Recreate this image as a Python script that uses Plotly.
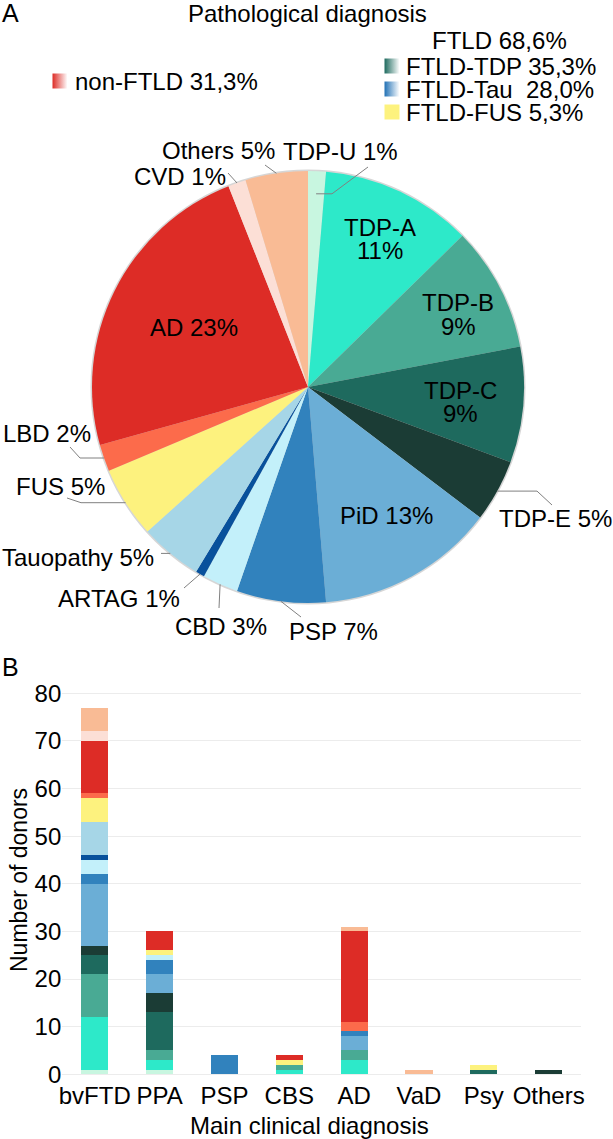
import math
import plotly.graph_objects as go

W, H = 613, 1139
FONT = "Liberation Sans, Arial, sans-serif"

# ---------------- data ----------------
clinical = ["bvFTD", "PPA", "PSP", "CBS", "AD", "VaD", "Psy", "Others"]
pathology = ["TDP-U", "TDP-A", "TDP-B", "TDP-C", "TDP-E", "PiD", "PSP", "CBD",
             "ARTAG", "Tauopathy", "FUS", "LBD", "AD", "CVD", "Others"]
colors = ["#c8f6e0", "#2de9c9", "#49aa94", "#1e6a5e", "#1b3c35", "#6baed6",
          "#3182bd", "#c3f0fa", "#08519c", "#a6d6e7", "#fdf27e", "#fc6b4b",
          "#dd2c26", "#fcdfd6", "#f9bb95"]

# donors per clinical diagnosis (bvFTD, PPA, PSP, CBS, AD, VaD, Psy, Others)
tdp_u     = [1, 1, 0, 0, 0, 0, 0, 0]
tdp_a     = [11, 2, 0, 1, 3, 0, 0, 0]
tdp_b     = [9, 2, 0, 1, 2, 0, 0, 0]
tdp_c     = [4, 8, 0, 0, 0, 0, 1, 0]
tdp_e     = [2, 4, 0, 0, 0, 0, 0, 1]
pid       = [13, 4, 0, 0, 3, 0, 0, 0]
psp       = [2, 3, 4, 0, 1, 0, 0, 0]
cbd       = [3, 1, 0, 0, 0, 0, 0, 0]
artag     = [1, 0, 0, 0, 0, 0, 0, 0]
tauopathy = [7, 0, 0, 0, 0, 0, 0, 0]
fus       = [5, 1, 0, 1, 0, 0, 1, 0]
lbd       = [1, 0, 0, 0, 2, 0, 0, 0]
ad        = [11, 4, 0, 1, 19, 0, 0, 0]
cvd       = [2, 0, 0, 0, 0, 0, 0, 0]
others    = [5, 0, 0, 0, 1, 1, 0, 0]
counts = [tdp_u, tdp_a, tdp_b, tdp_c, tdp_e, pid, psp, cbd, artag,
          tauopathy, fus, lbd, ad, cvd, others]

pie_values = [sum(c) for c in counts]
total = sum(pie_values)

legend_header = "FTLD 68,6%"
legend_items = ["FTLD-TDP 35,3%", "FTLD-Tau\u00a0\u00a028,0%", "FTLD-FUS 5,3%"]
legend_colors = ["#1e6a5e", "#2171b5", "#fdf27e"]
nonftld_text = "non-FTLD 31,3%"
nonftld_color = "#dd2c26"

y_ticks = [0, 10, 20, 30, 40, 50, 60, 70, 80]

# ---------------- layout geometry (pixels) ----------------
CX, CY, R = 308, 387, 216          # pie centre / radius

fig = go.Figure()

# overlay axis in pixel coordinates for texts, swatches and leader lines
fig.update_layout(
    xaxis3=dict(domain=[0, 1], range=[0, W], visible=False, fixedrange=True, anchor="y3"),
    yaxis3=dict(domain=[0, 1], range=[H, 0], visible=False, fixedrange=True, anchor="x3"),
)

# --- pie ---
fig.add_trace(go.Pie(
    labels=pathology, values=pie_values, sort=False, direction="clockwise",
    rotation=0, marker=dict(colors=colors, line=dict(width=0)),
    textinfo="none", hoverinfo="label+percent", showlegend=False,
    domain=dict(x=[(CX - R) / W, (CX + R) / W], y=[1 - (CY + R) / H, 1 - (CY - R) / H]),
))

# --- stacked bars ---
for name, col, vals in zip(pathology, colors, counts):
    fig.add_trace(go.Bar(
        x=clinical, y=vals, name=name, marker=dict(color=col, line=dict(width=0)),
        showlegend=False, xaxis="x", yaxis="y",
    ))

# legend swatches (gradient squares)
sw_x = [392, 392, 392, 60]
sw_y = [66, 89, 112, 81]
sw_c = legend_colors + [nonftld_color]
for x, y, c in zip(sw_x, sw_y, sw_c):
    grad = dict(type="horizontal", color="white") if c != "#fdf27e" else dict(type="none")
    fig.add_trace(go.Scatter(
        x=[x], y=[y], mode="markers", xaxis="x3", yaxis="y3", showlegend=False,
        hoverinfo="skip",
        marker=dict(symbol="square", size=15, color=c, gradient=grad, line=dict(width=0)),
    ))

annotations = []
shapes = []


def txt(s, x, y, size=24, xanchor="center", angle=0):
    annotations.append(dict(text=s, x=x, y=y, xref="x3", yref="y3", showarrow=False,
                            xanchor=xanchor, yanchor="middle", textangle=angle,
                            font=dict(family=FONT, size=size, color="#000")))


# slice mid angles (from data)
mid_angle = {}
cum = 0
for name, v in zip(pathology, pie_values):
    mid_angle[name] = 2 * math.pi * (cum + v / 2) / total
    cum += v


def edge(name, rf=1.0):
    a = mid_angle[name]
    return CX + R * rf * math.sin(a), CY - R * rf * math.cos(a)


def pct(name):
    v = pie_values[pathology.index(name)]
    return f"{round(100 * v / total)}%"


# single-line pie labels
single = {
    "TDP-U": (340, 151), "Others": (218, 150), "CVD": (180, 176), "AD": (194, 327),
    "LBD": (47, 433), "FUS": (60, 486), "Tauopathy": (78, 557), "ARTAG": (119, 598),
    "CBD": (221, 626), "PSP": (333, 631), "PiD": (386, 515), "TDP-E": (555, 518),
}
for name, (x, y) in single.items():
    txt(f"{name} {pct(name)}", x, y)

# two-line pie labels
split = {"TDP-A": (380, 227, 250), "TDP-B": (458, 302, 326), "TDP-C": (460, 390, 413)}
for name, (x, y1, y2) in split.items():
    txt(name, x, y1)
    txt(pct(name), x, y2)

# leader lines: label-side points, then slice edge; None y = same y as edge
leaders = {
    "TDP-U": ([(368, 167), (332, None)], 0.895),
    "Others": ([(265, 165)], 1.0),
    "CVD": ([(228, 173)], 1.0),
    "LBD": ([(70, 447), (80, None)], 1.0),
    "FUS": ([(67, 498), (81, None)], 1.0),
    "Tauopathy": ([(161, None)], 1.0),
    "ARTAG": ([(184, 588)], 1.0),
    "CBD": ([(219, 608)], 1.0),
    "PSP": ([(301, 617)], 1.0),
    "TDP-E": ([(552, 505), (537, None)], 1.0),
}
for name, (pts, rf) in leaders.items():
    ex, ey = edge(name, rf)
    p = [(x, ey if y is None else y) for x, y in pts] + [(ex, ey)]
    path = "M " + " L ".join(f"{x:.1f},{y:.1f}" for x, y in p)
    shapes.append(dict(type="path", path=path, xref="x3", yref="y3",
                       line=dict(color="#808080", width=1), layer="above"))

# faint rim behind the pie
shapes.append(dict(type="circle", xref="x3", yref="y3", x0=CX - R - 1.5, x1=CX + R + 1.5,
                   y0=CY - R - 1.5, y1=CY + R + 1.5, fillcolor="#d6d6d6",
                   line=dict(width=0), layer="below"))

# titles / legend texts
txt("A", 0, 13, size=25, xanchor="left")
txt("B", 0, 667, size=25, xanchor="left")
txt("Pathological diagnosis", 307, 13)
txt(legend_header, 499, 40)
for s, y in zip(legend_items, sw_y[:3]):
    txt(s, 404, y, xanchor="left")
txt(nonftld_text, 73, 81, xanchor="left")

# bar-chart axis titles
txt("Main clinical diagnosis", 309, 1125)
txt("Number of donors", 19, 880, size=23, angle=-90)

# bar axes geometry
Y0PX, PXU = 1074.3, 4.7625
ylo, yhi = -1, 82
XL, XR = 62.3, 581.1

fig.update_layout(
    width=W, height=H, margin=dict(l=0, r=0, t=0, b=0, autoexpand=False),
    paper_bgcolor="white", plot_bgcolor="rgba(0,0,0,0)",
    barmode="stack", bargap=0.58,
    font=dict(family=FONT, size=24, color="#000"),
    xaxis=dict(domain=[XL / W, XR / W], anchor="y", showgrid=False, zeroline=False,
               showline=False, ticks="", tickfont=dict(size=24, color="#000"),
               fixedrange=True),
    yaxis=dict(domain=[1 - (Y0PX - PXU * ylo) / H, 1 - (Y0PX - PXU * yhi) / H],
               anchor="x", range=[ylo, yhi], tickvals=y_ticks, showgrid=True,
               gridcolor="#ececec", gridwidth=1, zeroline=False, showline=False,
               ticks="", tickfont=dict(size=24, color="#000"), fixedrange=True),
    annotations=annotations, shapes=shapes,
)

fig.write_html("out.html", config={"displayModeBar": False},
               post_script="document.body.style.margin='0';document.body.style.overflow='hidden';")
